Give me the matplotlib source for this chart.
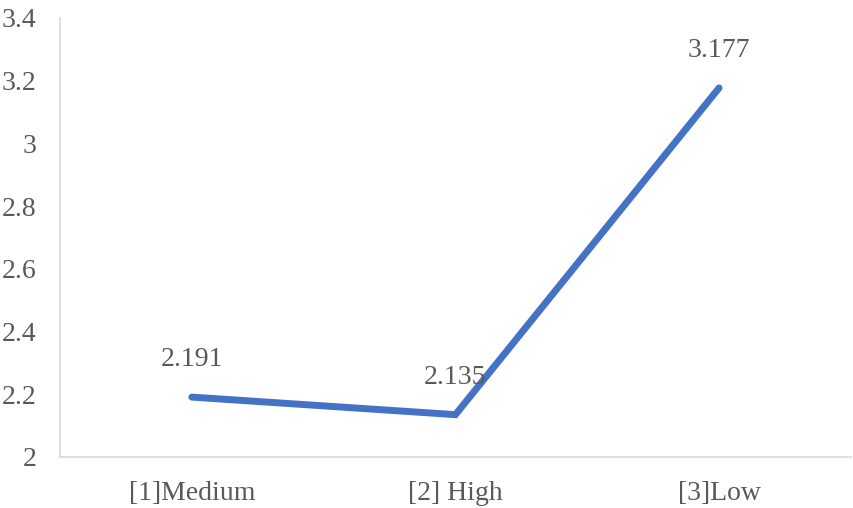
import matplotlib
matplotlib.use("Agg")
import matplotlib.pyplot as plt

categories = ["[1]Medium", "[2] High", "[3]Low"]
values = [2.191, 2.135, 3.177]
yticks = [2, 2.2, 2.4, 2.6, 2.8, 3, 3.2, 3.4]
ytick_labels = ["2", "2.2", "2.4", "2.6", "2.8", "3", "3.2", "3.4"]

plt.rcParams["font.family"] = ["Liberation Serif", "DejaVu Serif"]

fig = plt.figure(figsize=(8.54, 5.08), dpi=100)
ax = fig.add_axes([0.0703, 0.1004, 0.926, 0.8642])

x = list(range(len(categories)))
ax.plot(x, values, color="#4472C4", linewidth=5, solid_capstyle="round",
        solid_joinstyle="miter")

for xi, v in zip(x, values):
    ax.annotate("%.3f" % v, (xi, v), xytext=(0, 27), textcoords="offset points",
                ha="center", va="center", fontsize=20, color="#595959")

ax.set_xlim(-0.5, 2.5)
ax.set_ylim(2, 3.4)
ax.set_xticks(x)
ax.set_xticklabels(categories)
ax.set_yticks(yticks)
ax.set_yticklabels(ytick_labels)
ax.tick_params(axis="both", length=0, labelsize=20, labelcolor="#595959")
ax.tick_params(axis="y", pad=17)
ax.tick_params(axis="x", pad=17)

for side in ["top", "right"]:
    ax.spines[side].set_visible(False)
for side in ["left", "bottom"]:
    ax.spines[side].set_color("#D9D9D9")
    ax.spines[side].set_linewidth(1.2)

fig.savefig("out.png", dpi=100)
